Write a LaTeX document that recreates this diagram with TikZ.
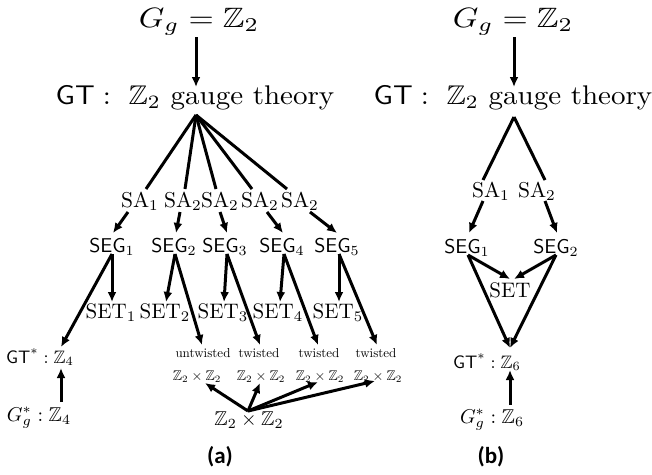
\documentclass[tikz,border=0pt]{standalone}
\usepackage{amssymb}
\usepackage{graphicx}
\usepackage{fontspec}
\newfontfamily\capfont{Carlito}
\usetikzlibrary{arrows.meta,calc}
\newcommand\sz[2]{\scalebox{#1}{#2}}
\newcommand\szz[3]{\scalebox{#1}[#2]{#3}}
\begin{document}
\begin{tikzpicture}[x=1pt,y=-1pt,
  lbl/.style={inner sep=0pt, anchor=base},
  arr/.style={-{Latex[length=10pt,width=9pt]}, line width=3pt},
  ln/.style={line width=3pt},
  caplbl/.style={inner sep=0pt}]
\useasboundingbox (0,0) rectangle (652,474);
% ---------------- (a) ----------------
\node[lbl] (ggA) at (199,27) {\szz{3.25}{2.8}{$G_g=\mathbb{Z}_2$}};
\node[lbl] (gtA) at (195,104) {\szz{2.9}{2.7}{$\mathsf{GT}:\ \mathbb{Z}_2$ gauge theory}};
\coordinate (apA) at ($(gtA.base)+(1,11)$);
\node[lbl] (sa1) at (140,207) {\sz{2.15}{$\mathrm{SA}_1$}};
\node[lbl] (sa2) at (183,207) {\sz{2.15}{$\mathrm{SA}_2$}};
\node[lbl] (sa3) at (220,207) {\sz{2.15}{$\mathrm{SA}_2$}};
\node[lbl] (sa4) at (260,207) {\sz{2.15}{$\mathrm{SA}_2$}};
\node[lbl] (sa5) at (300,207) {\sz{2.15}{$\mathrm{SA}_2$}};
\node[lbl] (seg1) at (112,252) {\sz{2.0}{$\mathsf{SEG}_1$}};
\node[lbl] (seg2) at (174,252) {\sz{2.0}{$\mathsf{SEG}_2$}};
\node[lbl] (seg3) at (225,252) {\sz{2.0}{$\mathsf{SEG}_3$}};
\node[lbl] (seg4) at (282,252) {\sz{2.0}{$\mathsf{SEG}_4$}};
\node[lbl] (seg5) at (337,252) {\sz{2.0}{$\mathsf{SEG}_5$}};
\node[lbl] (set1) at (111,318) {\sz{2.1}{$\mathrm{SET}_1$}};
\node[lbl] (set2) at (165,318) {\sz{2.1}{$\mathrm{SET}_2$}};
\node[lbl] (set3) at (223,318) {\sz{2.1}{$\mathrm{SET}_3$}};
\node[lbl] (set4) at (278,318) {\sz{2.1}{$\mathrm{SET}_4$}};
\node[lbl] (set5) at (338,318) {\sz{2.1}{$\mathrm{SET}_5$}};
\node[lbl] (tw1) at (203,357) {\sz{1.3}{untwisted}};
\node[lbl] (tw2) at (259,357) {\sz{1.3}{twisted}};
\node[lbl] (tw3) at (319,357) {\sz{1.3}{twisted}};
\node[lbl] (tw4) at (376,357) {\sz{1.3}{twisted}};
\node[lbl] (zs1) at (197,380) {\sz{1.4}{$\mathbb{Z}_2\times\mathbb{Z}_2$}};
\node[lbl] (zs2) at (261,380) {\sz{1.4}{$\mathbb{Z}_2\times\mathbb{Z}_2$}};
\node[lbl] (zs3) at (320,380) {\sz{1.4}{$\mathbb{Z}_2\times\mathbb{Z}_2$}};
\node[lbl] (zs4) at (378,380) {\sz{1.4}{$\mathbb{Z}_2\times\mathbb{Z}_2$}};
\node[lbl] (zz) at (249,425) {\sz{2.0}{$\mathbb{Z}_2\times\mathbb{Z}_2$}};
\coordinate (apZ) at ($(zz.base)+(-1,-14)$);
\node[lbl] (gt4) at (40,363) {\sz{1.8}{$\mathsf{GT}^*:\mathbb{Z}_4$}};
\node[lbl] (gg4) at (39,421) {\sz{2.0}{$G_g^*:\mathbb{Z}_4$}};
\node[caplbl] (capA) at (220,457) {\sz{2.3}{\capfont\bfseries (a)}};
% arrows (a)
\draw[arr] ($(gtA.base)+(1,-67)$) -- ($(gtA.base)+(1,-17)$);
\draw[ln] (apA) -- ($(sa1.base)+(6,-18)$);
\draw[ln] (apA) -- ($(sa2.base)+(2,-18)$);
\draw[ln] (apA) -- ($(sa3.base)+(-4,-18)$);
\draw[ln] (apA) -- ($(sa4.base)+(-8,-18)$);
\draw[ln] (apA) -- ($(sa5.base)+(-13,-18)$);
\draw[arr] ($(sa1.base)+(-12,5)$) -- ($(seg1.base)+(1,-19)$);
\draw[arr] ($(sa2.base)+(-3,5)$) -- ($(seg2.base)+(2,-19)$);
\draw[arr] ($(sa3.base)+(0,5)$) -- ($(seg3.base)+(2,-19)$);
\draw[arr] ($(sa4.base)+(7,5)$) -- ($(seg4.base)+(1,-19)$);
\draw[arr] ($(sa5.base)+(10,5)$) -- ($(seg5.base)+(0,-19)$);
\draw[arr] ($(seg1.base)+(0,2)$) -- ($(set1.base)+(1,-16)$);
\draw[arr] ($(seg2.base)+(1,2)$) -- ($(set2.base)+(1,-16)$);
\draw[arr] ($(seg3.base)+(2,2)$) -- ($(set3.base)+(1,-16)$);
\draw[arr] ($(seg4.base)+(2,2)$) -- ($(set4.base)+(2,-16)$);
\draw[arr] ($(seg5.base)+(2,2)$) -- ($(set5.base)+(1,-16)$);
\draw[arr] ($(seg1.base)+(0,2)$) -- ($(gt4.base)+(21,-16)$);
\draw[arr] ($(seg2.base)+(1,2)$) -- ($(tw1.base)+(-1,-12)$);
\draw[arr] ($(seg3.base)+(2,2)$) -- ($(tw2.base)+(1,-12)$);
\draw[arr] ($(seg4.base)+(2,2)$) -- ($(tw3.base)+(-1,-12)$);
\draw[arr] ($(seg5.base)+(2,2)$) -- ($(tw4.base)+(1,-12)$);
\draw[arr] (apZ) -- ($(zs1.base)+(8,3)$);
\draw[arr] (apZ) -- ($(zs2.base)+(-1,3)$);
\draw[arr] (apZ) -- ($(zs3.base)+(-2,2)$);
\draw[arr] (apZ) -- ($(zs4.base)+(-3,1)$);
\draw[arr] ($(gg4.base)+(22,-19)$) -- ($(gt4.base)+(21,5)$);
% ---------------- (b) ----------------
\node[lbl] (ggB) at (513,27) {\szz{3.25}{2.8}{$G_g=\mathbb{Z}_2$}};
\node[lbl] (gtB) at (513,104) {\szz{2.9}{2.7}{$\mathsf{GT}:\ \mathbb{Z}_2$ gauge theory}};
\coordinate (apB) at ($(gtB.base)+(1,13)$);
\node[lbl] (sb1) at (491,197) {\sz{2.15}{$\mathrm{SA}_1$}};
\node[lbl] (sb2) at (537,197) {\sz{2.15}{$\mathrm{SA}_2$}};
\node[lbl] (sgb1) at (467,253) {\sz{2.0}{$\mathsf{SEG}_1$}};
\node[lbl] (sgb2) at (556,253) {\sz{2.0}{$\mathsf{SEG}_2$}};
\node[lbl] (setb) at (510,297) {\sz{2.1}{$\mathrm{SET}$}};
\node[lbl] (gt6) at (487,368) {\sz{1.8}{$\mathsf{GT}^*:\mathbb{Z}_6$}};
\node[lbl] (gg6) at (492,423) {\sz{2.0}{$G_g^*:\mathbb{Z}_6$}};
\node[caplbl] (capB) at (491,457) {\sz{2.3}{\capfont\bfseries (b)}};
\draw[arr] ($(gtB.base)+(1,-67)$) -- ($(gtB.base)+(1,-17)$);
\draw[ln] (apB) -- ($(sb1.base)+(-8,-17)$);
\draw[ln] (apB) -- ($(sb2.base)+(8,-17)$);
\draw[arr] ($(sb1.base)+(-8,4)$) -- ($(sgb1.base)+(2,-20)$);
\draw[arr] ($(sb2.base)+(8,4)$) -- ($(sgb2.base)+(1,-20)$);
\draw[arr] ($(sgb1.base)+(1,2)$) -- ($(setb.base)+(0,-18)$);
\draw[arr] ($(sgb2.base)+(0,2)$) -- ($(setb.base)+(4,-18)$);
\draw[arr] ($(sgb1.base)+(1,2)$) -- ($(gt6.base)+(23,-20)$);
\draw[arr] ($(sgb2.base)+(0,2)$) -- ($(gt6.base)+(23,-20)$);
\draw[arr] ($(gg6.base)+(18,-18)$) -- ($(gt6.base)+(23,2)$);
\end{tikzpicture}
\end{document}
